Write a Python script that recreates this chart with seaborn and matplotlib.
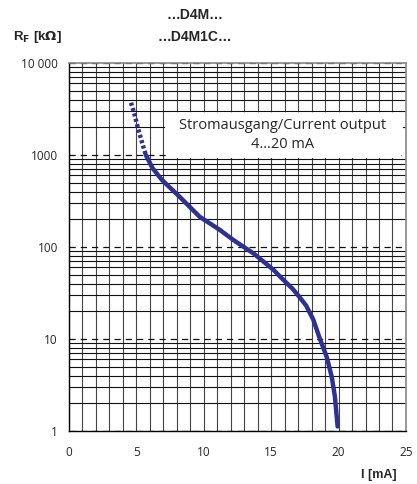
import numpy as np
import pandas as pd
import matplotlib
matplotlib.use("Agg")
import matplotlib.pyplot as plt
import seaborn as sns
from matplotlib.patches import FancyBboxPatch
from matplotlib.ticker import MultipleLocator, LogLocator, FixedLocator, NullFormatter

# Kennlinie R_F über I
i_dotted = [4.6, 4.85, 5.1, 5.4, 5.7]
r_dotted = [3700, 2800, 2000, 1400, 1000]
i_solid = [5.7, 6.2, 6.9, 8.2, 9.7, 11.2, 12.2, 13.7, 15.2, 15.7, 16.6, 17.15, 17.6,
           18.12, 18.62, 19.12, 19.49, 19.73, 19.93]
r_solid = [1000, 720, 535, 352, 213, 153, 119, 85, 56, 47, 35, 28, 23,
           16.3, 10, 6.4, 3.9, 2.36, 1.12]

x_ticks = [0, 5, 10, 15, 20, 25]
y_ticks = [1, 10, 100, 1000, 10000]
y_labels = ["1", "10", "100", "1000", "10 000"]

df_dot = pd.DataFrame({"I": i_dotted, "R": r_dotted})
df_sol = pd.DataFrame({"I": i_solid, "R": r_solid})

sns.set_style("white")
plt.rcParams["font.family"] = ["Open Sans", "DejaVu Sans"]

fig = plt.figure(figsize=(4.17, 4.84), dpi=100)
ax = fig.add_axes([0.1655, 0.1095, 0.808, 0.7603])

blue = "#2e3192"
sns.lineplot(data=df_sol, x="I", y="R", ax=ax, color=blue, lw=3.2, sort=False)
ax.lines[-1].set_solid_capstyle("round")
ax.lines[-1].set_solid_joinstyle("round")
sns.lineplot(data=df_dot, x="I", y="R", ax=ax, color=blue, lw=3.2, sort=False)
ax.lines[-1].set_linestyle((0, (0.7, 0.55)))
ax.lines[-1].set_dash_capstyle("butt")

ax.set_yscale("log")
ax.set_xlim(0, 25)
ax.set_ylim(1, 10000)

# Gitter
ax.xaxis.set_minor_locator(MultipleLocator(1))
ax.yaxis.set_major_locator(FixedLocator(y_ticks))
ax.yaxis.set_minor_locator(LogLocator(base=10, subs=np.arange(2, 10)))
ax.yaxis.set_minor_formatter(NullFormatter())
ax.grid(axis="x", which="both", color="#444444", lw=0.8, ls="-")
ax.grid(axis="y", which="minor", color="#111111", lw=0.8, ls="-")
ax.grid(axis="y", which="major", color="#111111", lw=0.9, ls=(0, (5, 4)))
ax.set_axisbelow(True)

ax.set_xticks(x_ticks)
ax.set_yticks(y_ticks)
ax.set_yticklabels(y_labels)
ax.tick_params(axis="both", which="major", direction="out", length=5, width=0.8,
               color="black", labelsize=8.5, pad=3)
ax.tick_params(axis="x", pad=6)
ax.tick_params(axis="both", which="minor", length=0)

for s in ["left", "bottom"]:
    ax.spines[s].set_color("black")
    ax.spines[s].set_linewidth(1.0)
for s in ["right", "top"]:
    ax.spines[s].set_color("#888888")
    ax.spines[s].set_linewidth(1.2)

ax.set_xlabel("")
ax.set_ylabel("")

# weißes Textfeld
box = FancyBboxPatch((0.285, 0.742), 0.706, 0.124, transform=ax.transAxes,
                     boxstyle="round,pad=0.0,rounding_size=0.02",
                     fc="white", ec="none", zorder=2.5)
ax.add_patch(box)
ax.text(0.635, 0.804, "Stromausgang/Current output\n4\u202620 mA", transform=ax.transAxes,
        ha="center", va="center", fontsize=10.5, linespacing=1.3, zorder=3)

bold = ["Liberation Sans", "DejaVu Sans"]
fig.text(0.468, 0.968, "\u2026D4M\u2026", ha="center", va="center", fontsize=10,
         fontweight="bold", family=bold)
fig.text(0.468, 0.923, "\u2026D4M1C\u2026", ha="center", va="center", fontsize=10,
         fontweight="bold", family=bold)
fig.text(0.03, 0.923, r"R$_\mathbf{F}$ [k$\mathbf{\Omega}$]", ha="left", va="center",
         fontsize=9.5, fontweight="bold", family=bold)
fig.text(0.952, 0.018, "I [mA]", ha="right", va="center", fontsize=9,
         fontweight="bold", family=bold)

fig.savefig("out.png", dpi=100)
